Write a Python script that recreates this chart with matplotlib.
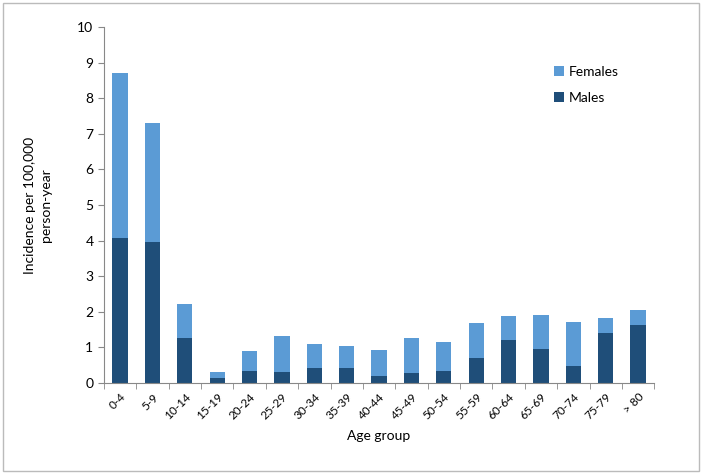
import matplotlib
matplotlib.use("Agg")
import matplotlib.pyplot as plt
from matplotlib.patches import Rectangle
import numpy as np

categories = ["0-4", "5-9", "10-14", "15-19", "20-24", "25-29", "30-34", "35-39",
              "40-44", "45-49", "50-54", "55-59", "60-64", "65-69", "70-74", "75-79", "> 80"]
males = [4.07, 3.95, 1.25, 0.13, 0.33, 0.32, 0.43, 0.41, 0.20, 0.28, 0.33, 0.69, 1.20, 0.96, 0.47, 1.40, 1.63]
totals = [8.70, 7.30, 2.22, 0.32, 0.90, 1.32, 1.09, 1.05, 0.93, 1.27, 1.16, 1.68, 1.87, 1.92, 1.72, 1.83, 2.04]
females = [t - m for t, m in zip(totals, males)]

plt.rcParams['font.family'] = ['Lato', 'DejaVu Sans']

fig = plt.figure(figsize=(7.02, 4.74), dpi=100)
ax = fig.add_axes([0.148, 0.192, 0.784, 0.751])

x = np.arange(len(categories))
c_m = "#1F4E79"
c_f = "#5B9BD5"
bm = ax.bar(x, males, width=0.47, color=c_m, label="Males", zorder=2)
bf = ax.bar(x, females, width=0.47, bottom=males, color=c_f, label="Females", zorder=2)

ax.set_xlim(-0.5, len(categories) - 0.5)
ax.set_ylim(0, 10)
ax.set_yticks(range(0, 11))
ax.set_xticks(x)
ax.set_xticklabels(categories, rotation=45, ha="right", rotation_mode="anchor", fontsize=8.5)
ax.tick_params(axis="x", length=0, pad=6)
ax.set_xticks(np.arange(-0.5, len(categories), 1), minor=True)
ax.tick_params(axis="x", which="minor", length=4, color="#888888", direction="out")
ax.tick_params(axis="y", length=4, color="#888888", labelsize=10)

for s in ["top", "right"]:
    ax.spines[s].set_visible(False)
for s in ["left", "bottom"]:
    ax.spines[s].set_color("#888888")

ax.set_xlabel("Age group", fontsize=10, labelpad=6)
ax.set_ylabel("Incidence per 100,000\nperson-year", fontsize=10, labelpad=18,
              linespacing=1.4, multialignment="center")

ax.legend(handles=[bf, bm], loc="upper left", bbox_to_anchor=(0.795, 0.925), frameon=False,
          fontsize=10, handlelength=0.7, handleheight=0.7, labelspacing=1.0, handletextpad=0.4)

fig.patches.append(Rectangle((0.004, 0.006), 0.992, 0.988, transform=fig.transFigure,
                             fill=False, edgecolor="#BBBBBB", linewidth=1))

fig.savefig("out.png", dpi=100)
